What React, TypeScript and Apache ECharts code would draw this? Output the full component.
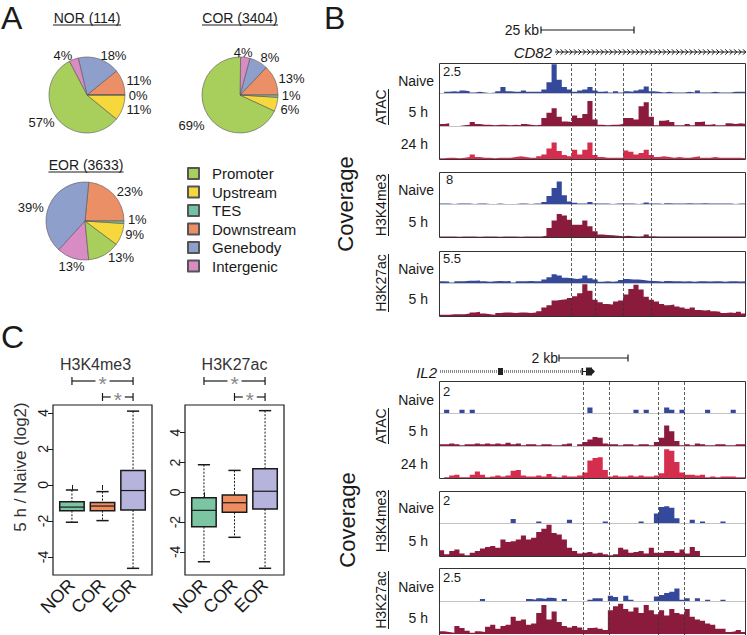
import React, { useEffect, useRef } from "react";
import * as echarts from "echarts";

const FONT = "'Liberation Sans', Arial, Helvetica, sans-serif";

// ---------------- Panel A : genomic distribution pies ----------------
const pieCategories = ["Downstream", "Genebody", "Intergenic", "Promoter", "Upstream", "TES"];
const legendCategories = ["Promoter", "Upstream", "TES", "Downstream", "Genebody", "Intergenic"];
const categoryColors: Record<string, string> = {
  Promoter: "#a8cf5c",
  Upstream: "#f6d83c",
  TES: "#72c3a3",
  Downstream: "#eb8f67",
  Genebody: "#8e9fcc",
  Intergenic: "#d98bc4",
};
const norShares = [11, 18, 4, 57, 11, 0];
const corShares = [13, 8, 4, 69, 6, 1];
const eorShares = [23, 39, 13, 13, 9, 1];
const pieTitles = ["NOR (114)", "COR (3404)", "EOR (3633)"];

// ---------------- Panel C : boxplots [min, q1, median, q3, max] ----------------
const groups = ["NOR", "COR", "EOR"];
const h3k4me3Stats = [
  [-2.07, -1.43, -1.23, -0.93, -0.28],
  [-1.98, -1.43, -1.17, -0.98, -0.37],
  [-4.63, -1.39, -0.31, 0.8, 4.1],
];
const h3k27acStats = [
  [-4.66, -2.31, -1.21, -0.36, 1.85],
  [-3.02, -1.34, -0.7, -0.18, 1.47],
  [-5.1, -1.12, 0.07, 1.58, 5.48],
];
const yTickValues = [-4, -2, 0, 2, 4];
const groupColors = ["#7cc5a2", "#ee8d5f", "#b6b4dc"];

// ---------------- Panel B : coverage tracks (60 bins per locus) ----------------
const cd82AtacNaive = [0,0.1,0.15,0.1,0.2,0.15,0.05,0.1,0.05,0, 0.05,0.15,0.5,0.15,0.1,0.1,0.2,0.1,0.1,0.1, 0.3,0.9,2.4,1.1,0.5,0.3,0.1,0.2,0.3,0.5, 0.2,0.1,0.15,0.05,0.15,0.05,0.15,0.1,0.2,0.3, 0.55,0.15,0.1,0.05,0.1,0.05,0.05,0.05,0.1,0.05, 0.2,0.05,0.05,0.1,0.05,0.05,0.05,0.1,0.1,0.1];
const cd82Atac5h = [0.15,0.2,0,0,0.05,0.1,0.3,0.15,0.1,0.1, 0.05,0.1,0.1,0.05,0.1,0.05,0.15,0.1,0.05,0.1, 0.6,1.0,1.35,0.7,0.35,0.3,0.8,0.6,0.9,1.9, 0.5,0.1,0.05,0.1,0.1,0.15,0.6,0.6,0.5,1.5, 1.8,0.7,0.05,0.4,0.45,0.3,0.05,0.05,0.15,0.05, 0.3,0.35,0.1,0.15,0.05,0.05,0.2,0.15,0.2,0.15];
const cd82Atac24h = [0.05,0.1,0.1,0.05,0.1,0.15,0.35,0.15,0.1,0.1, 0.05,0.1,0.1,0.1,0.15,0.2,0.15,0.1,0.1,0.2, 0.35,0.8,1.25,0.6,0.3,0.2,0.7,0.35,0.7,1.25, 0.3,0.15,0.1,0.1,0.1,0.1,0.65,0.55,0.35,0.45, 0.7,0.3,0.15,0.2,0.15,0.1,0.15,0.1,0.1,0.15, 0.2,0.1,0.1,0.15,0.1,0.1,0.1,0.1,0.1,0.05];
const cd82K4Naive = [0.1,0.1,0,0.15,0.1,0.1,0,0.1,0.1,0, 0,0.1,0,0,0,0.1,0.1,0,0.1,0.15, 0.5,2.0,4.0,5.6,2.2,0.6,0.3,0.1,0.1,0.5, 0.1,0.1,0.1,0,0.1,0.1,0.1,0.1,0,0.1, 0.4,0.1,0.1,0,0.2,0.1,0.1,0.1,0.2,0.1, 0.1,0.2,0.1,0.1,0.1,0.1,0.1,0,0.1,0.1];
const cd82K45h = [0.1,0.1,0.1,0.05,0.1,0.1,0.1,0.05,0.1,0.1, 0.1,0.05,0.1,0.1,0.1,0.05,0.1,0.1,0.1,0.15, 0.3,2.2,4.0,5.6,5.2,4.2,3.0,3.0,4.0,2.6, 1.4,0.6,0.5,0.4,0.3,0.2,0.3,0.2,0.1,0.2, 0.6,0.2,0.1,0.1,0.15,0.1,0.1,0.1,0.1,0.1, 0.1,0.15,0.1,0.1,0.1,0.1,0.1,0.15,0.1,0.1];
const cd82K27Naive = [0.3,0.25,0.1,0.3,0.3,0.4,0.4,0.45,0.3,0.2, 0.3,0.35,0.3,0.35,0.1,0.3,0.3,0.35,0.3,0.3, 0.6,1.0,1.5,1.3,0.9,0.8,0.7,0.8,1.3,0.8, 0.6,0.2,0.3,0.2,0.3,0.5,0.7,0.6,0.6,0.5, 0.4,0.35,0.3,0.2,0.35,0.3,0.3,0.25,0.3,0.2, 0.3,0.3,0.25,0.3,0.3,0.2,0.3,0.3,0.25,0.3];
const cd82K275h = [0.2,0.2,0.3,0.3,0.3,0.4,0.6,0.7,0.4,0.3, 0.2,0.5,0.6,0.6,0.5,0.6,0.6,0.5,0.6,0.8, 1.4,1.8,2.6,2.7,2.8,3.0,3.3,3.8,5.3,4.2, 2.7,2.3,2.0,1.9,2.4,2.6,3.6,4.5,5.2,4.4, 3.2,2.7,2.4,2.0,1.8,1.9,1.6,1.4,1.2,1.4, 1.0,0.9,1.0,0.8,0.7,0.5,0.6,0.5,0.7,0.4];

const il2AtacNaive = [0,0.2,0,0,0.2,0,0.2,0,0,0, 0,0,0,0,0,0,0,0,0,0, 0,0,0,0,0,0,0,0,0,0.35, 0,0,0,0,0,0,0,0,0.2,0, 0.2,0,0,0,0.35,0.2,0,0.2,0,0, 0,0,0.2,0,0,0,0,0.2,0,0];
const il2Atac5h = [0.1,0.1,0.15,0.1,0.05,0.1,0.1,0.15,0.1,0.15, 0.1,0.15,0.1,0.2,0.1,0.15,0.05,0.1,0.1,0.05, 0.1,0.1,0.05,0.05,0.1,0.15,0,0.1,0.25,0.4, 0.55,0.5,0.15,0.1,0.1,0.05,0.1,0.1,0.05,0.1, 0.1,0.05,0.25,0.5,1.25,0.9,0.3,0.05,0.1,0.05, 0.15,0.1,0.05,0.05,0.1,0.1,0.05,0.05,0.1,0.1];
const il2Atac24h = [0,0.05,0.15,0.2,0.05,0.05,0.2,0.4,0.2,0.05, 0.1,0.15,0.1,0.15,0.45,0.5,0.15,0.1,0.1,0.15, 0.1,0.25,0.1,0.05,0.15,0.1,0.1,0.15,0.35,1.1, 1.25,1.3,0.5,0.1,0.15,0.1,0.1,0.15,0.1,0.15, 0.1,0.1,0.15,0.3,1.8,1.7,1.0,0.35,0.2,0.2, 0.15,0.2,0.05,0.1,0.05,0.1,0.1,0.1,0.05,0.05];
const il2K4Naive = [0,0,0,0,0,0,0,0,0,0, 0,0,0,0,0.25,0,0,0,0,0.1, 0,0,0,0,0,0.2,0,0,0,0, 0,0,0.1,0,0,0,0,0,0,0.1, 0,0,0.6,1.0,1.05,0.95,0.3,0,0,0.2, 0,0.1,0,0,0,0.1,0,0,0,0];
const il2K45h = [0.35,0.1,0.3,0.4,0.15,0.05,0.2,0.3,0.45,0.55, 0.6,0.5,1.0,0.85,0.9,1.0,1.25,1.0,1.1,1.45, 1.65,1.9,1.4,1.3,1.0,0.5,0.3,0.15,0.2,0.25, 0.15,0.2,0.1,0.05,0.1,0.5,0.4,0.2,0.25,0.3, 0.15,0.5,0.2,0.2,0.3,0.3,0.2,0.4,0.15,0.55, 0.3,0,0,0,0,0,0,0,0,0];
const il2K27Naive = [0,0,0,0,0,0,0,0,0.15,0, 0,0,0,0,0,0,0,0.15,0.1,0.2, 0.15,0.25,0.2,0,0.15,0,0,0,0,0.1, 0.2,0.2,0,0.4,0.3,0,0.4,0.1,0,0, 0,0,0.35,0.45,0.6,0.7,0.95,0.1,0.2,0, 0.2,0,0.1,0,0,0.1,0,0,0,0];
const il2K275h = [0.2,0.15,0.1,0.6,0.45,0.25,0.1,0.2,0.15,0.55, 0.7,0.4,0.6,0.7,1.3,1.0,1.1,0.7,0.8,1.6, 2.2,1.1,1.7,0.9,0.6,0.5,0.6,0.5,0.3,0.45, 0.5,0.4,0.3,1.8,2.1,2.3,1.9,1.7,2.0,1.6, 2.2,1.8,1.5,1.8,1.4,1.9,1.6,1.5,1.9,1.3, 1.1,1.0,0.8,0.7,0.4,0.4,0.15,0.2,0.3,0.15];

// track data ranges (the numbers printed at the top-left of each box)
const cd82Ranges = [2.5, 8, 5.5];
const il2Ranges = [2, 2, 2.5];
// enhancer boundaries (dashed lines), in bins
const cd82Dashes = [25.8, 30.5, 36.1, 41.4];
const il2Dashes = [28.2, 33.3, 42.9, 47.9];
const NBINS = 60;

const NAIVE = "#34499c";
const H5 = "#8b1b3d";
const H24 = "#d52d4d";
const TX = 439;
const TW = 307;

export default function App() {
  const ref = useRef<HTMLDivElement>(null);
  useEffect(() => {
    if (!ref.current) return;
    const chart = echarts.init(ref.current, null, { renderer: "svg", width: 747, height: 635 });

    const grids: any[] = [];
    const xAxes: any[] = [];
    const yAxes: any[] = [];
    const series: any[] = [];
    const g: any[] = [];

    const txt = (text: string, x: number, y: number, o: any = {}) =>
      g.push({
        type: "text", x, y, rotation: o.rot || 0, silent: true, z: 100,
        style: {
          text, fontSize: o.size || 14, fontFamily: FONT, fill: o.color || "#1a1a1a",
          align: o.align || "left", verticalAlign: o.va || "middle",
          fontStyle: o.italic ? "italic" : "normal",
          lineHeight: o.lh || undefined,
        },
      });
    const ln = (x1: number, y1: number, x2: number, y2: number, o: any = {}) =>
      g.push({
        type: "line", silent: true, z: 100, shape: { x1, y1, x2, y2 },
        style: { stroke: o.color || "#1a1a1a", lineWidth: o.w || 1, lineDash: o.dash || null },
      });
    const rect = (x: number, y: number, w: number, h: number, o: any = {}) =>
      g.push({
        type: "rect", silent: true, z: o.z || 100, shape: { x, y, width: w, height: h },
        style: { fill: o.fill || "none", stroke: o.stroke || "none", lineWidth: o.w || 1 },
      });

    // ---------------- Panel C boxplots ----------------
    const boxGrids = [
      { left: 53, stats: h3k4me3Stats, min: -5.0, max: 4.44, title: "H3K4me3" },
      { left: 185, stats: h3k27acStats, min: -5.55, max: 5.86, title: "H3K27ac" },
    ];
    const XMIN = 0.38, XMAX = 3.62, BW = 99;
    boxGrids.forEach((b, k) => {
      grids.push({ left: b.left, top: 405, width: BW, height: 170, show: true, borderColor: "#1a1a1a", borderWidth: 1.2, backgroundColor: "transparent" });
      xAxes.push({
        type: "value", gridIndex: k, min: XMIN, max: XMAX,
        axisLine: { show: false }, splitLine: { show: false },
        axisTick: { show: true, customValues: [1, 2, 3], length: 5, lineStyle: { color: "#1a1a1a" } },
        axisLabel: {
          show: true, customValues: [1, 2, 3], rotate: 45, margin: 7, fontSize: 18,
          color: "#1a1a1a", fontFamily: FONT, formatter: (v: number) => groups[Math.round(v) - 1] || "",
        },
      });
      yAxes.push({
        type: "value", gridIndex: k, min: b.min, max: b.max,
        axisLine: { show: false }, splitLine: { show: false },
        axisTick: { show: true, customValues: yTickValues, length: 5, lineStyle: { color: "#1a1a1a" } },
        axisLabel: {
          show: true, customValues: yTickValues, rotate: 90, margin: 3, fontSize: 14,
          color: "#1a1a1a", fontFamily: FONT, formatter: (v: number) => String(v),
        },
      });
      series.push({
        type: "custom", xAxisIndex: k, yAxisIndex: k, silent: true, z: 3,
        data: b.stats.map((s, i) => [i + 1, ...s]),
        encode: { x: 0, y: [1, 2, 3, 4, 5] },
        renderItem: (params: any, api: any) => {
          const x = api.value(0);
          const pLo = api.coord([x, api.value(1)]);
          const pQ1 = api.coord([x, api.value(2)]);
          const pMed = api.coord([x, api.value(3)]);
          const pQ3 = api.coord([x, api.value(4)]);
          const pHi = api.coord([x, api.value(5)]);
          const w = api.size([0.8, 0])[0];
          const cx = pMed[0];
          const dotted = { stroke: "#1a1a1a", lineWidth: 1, lineDash: [2, 1.5] };
          const solid = { stroke: "#1a1a1a", lineWidth: 1.5 };
          return {
            type: "group",
            children: [
              { type: "line", shape: { x1: cx, y1: pHi[1], x2: cx, y2: pQ3[1] }, style: dotted },
              { type: "line", shape: { x1: cx, y1: pQ1[1], x2: cx, y2: pLo[1] }, style: dotted },
              { type: "line", shape: { x1: cx - w / 4, y1: pHi[1], x2: cx + w / 4, y2: pHi[1] }, style: solid },
              { type: "line", shape: { x1: cx - w / 4, y1: pLo[1], x2: cx + w / 4, y2: pLo[1] }, style: solid },
              { type: "rect", shape: { x: cx - w / 2, y: pQ3[1], width: w, height: pQ1[1] - pQ3[1] }, style: { fill: groupColors[params.dataIndex], stroke: "#1a1a1a", lineWidth: 1.5 } },
              { type: "line", shape: { x1: cx - w / 2, y1: pMed[1], x2: cx + w / 2, y2: pMed[1] }, style: { stroke: "#1a1a1a", lineWidth: 1.2 } },
            ],
          };
        },
      });
      // title
      txt(b.title, b.left + BW / 2 - (k === 0 ? 7 : 0), 364, { size: 16, align: "center", color: "#333", lh: 16 });
      // significance brackets (NOR-EOR, COR-EOR)
      const cat = (i: number) => b.left + ((i - XMIN) / (XMAX - XMIN)) * BW;
      const bracket = (a: number, c: number, y: number) => {
        const xa = cat(a), xc = cat(c), mid = (xa + xc) / 2;
        ln(xa, y, mid - 7, y, { w: 1.2 });
        ln(mid + 7, y, xc, y, { w: 1.2 });
        ln(xa, y - 4, xa, y + 4, { w: 1.2 });
        ln(xc, y - 4, xc, y + 4, { w: 1.2 });
        txt("*", mid, y + 2, { size: 21, align: "center", color: "#888", lh: 12 });
      };
      bracket(1, 3, 381);
      bracket(2, 3, 397);
    });
    txt("5 h / Naive (log2)", 20, 467, { size: 17, align: "center", rot: Math.PI / 2, color: "#333" });

    // ---------------- Panel B tracks ----------------
    const tracks = [
      { data: cd82AtacNaive, max: cd82Ranges[0], color: NAIVE, top: 63, h: 30, base: true },
      { data: cd82Atac5h, max: cd82Ranges[0], color: H5, top: 93, h: 33, base: true },
      { data: cd82Atac24h, max: cd82Ranges[0], color: H24, top: 126, h: 33, base: false },
      { data: cd82K4Naive, max: cd82Ranges[1], color: NAIVE, top: 172, h: 32, base: true },
      { data: cd82K45h, max: cd82Ranges[1], color: H5, top: 204, h: 33, base: false },
      { data: cd82K27Naive, max: cd82Ranges[2], color: NAIVE, top: 251, h: 32, base: true },
      { data: cd82K275h, max: cd82Ranges[2], color: H5, top: 283, h: 33, base: false },
      { data: il2AtacNaive, max: il2Ranges[0], color: NAIVE, top: 381, h: 32, base: true },
      { data: il2Atac5h, max: il2Ranges[0], color: H5, top: 413, h: 33, base: true },
      { data: il2Atac24h, max: il2Ranges[0], color: H24, top: 446, h: 32, base: false },
      { data: il2K4Naive, max: il2Ranges[1], color: NAIVE, top: 491, h: 32, base: true },
      { data: il2K45h, max: il2Ranges[1], color: H5, top: 523, h: 33, base: false },
      { data: il2K27Naive, max: il2Ranges[2], color: NAIVE, top: 568, h: 33, base: true },
      { data: il2K275h, max: il2Ranges[2], color: H5, top: 601, h: 33, base: false },
    ];
    tracks.forEach((t) => {
      const gi = grids.length;
      grids.push({ left: TX, top: t.top, width: TW, height: t.h });
      xAxes.push({
        type: "value", gridIndex: gi, min: 0, max: NBINS,
        axisLine: { show: t.base, onZero: false, lineStyle: { color: "#c4c4c4", width: 1 } },
        axisTick: { show: false }, axisLabel: { show: false }, splitLine: { show: false },
      });
      yAxes.push({ type: "value", gridIndex: gi, min: 0, max: t.max, show: false });
      const pts = t.data.map((v, i) => [i, v]);
      pts.push([t.data.length, t.data[t.data.length - 1]]);
      series.push({
        type: "line", xAxisIndex: gi, yAxisIndex: gi, step: "end", symbol: "none", silent: true,
        lineStyle: { width: 0 }, areaStyle: { color: t.color, opacity: 1 }, data: pts, z: 2,
      });
    });
    // dashed enhancer boundaries
    [
      { top: 63, h: 253, dashes: cd82Dashes },
      { top: 381, h: 254, dashes: il2Dashes },
    ].forEach((o) => {
      const gi = grids.length;
      grids.push({ left: TX, top: o.top, width: TW, height: o.h });
      xAxes.push({ type: "value", gridIndex: gi, min: 0, max: NBINS, show: false });
      yAxes.push({ type: "value", gridIndex: gi, min: 0, max: 1, show: false });
      series.push({
        type: "line", xAxisIndex: gi, yAxisIndex: gi, data: [[0, 0]], symbol: "none", silent: true,
        lineStyle: { opacity: 0 }, z: 10,
        markLine: {
          silent: true, symbol: "none", label: { show: false },
          lineStyle: { color: "#333", width: 0.8, type: [3, 2] },
          data: o.dashes.map((v) => ({ xAxis: v })),
        },
      });
    });

    // track frames
    [[63, 96], [172, 65], [251, 65], [381, 97], [491, 65], [568, 67]].forEach(([y, h]) =>
      rect(TX + 0.5, y + 0.5, TW - 1, h, { stroke: "#333", w: 1 })
    );
    // range labels
    txt(String(cd82Ranges[0]), 443, 71, { size: 13 });
    txt(String(cd82Ranges[1]), 446, 179, { size: 13 });
    txt(String(cd82Ranges[2]), 443, 258, { size: 13 });
    txt(String(il2Ranges[0]), 443, 391, { size: 13 });
    txt(String(il2Ranges[1]), 443, 500, { size: 13 });
    txt(String(il2Ranges[2]), 443, 577, { size: 13 });
    // row labels
    const rowLabels: [string, number, number][] = [
      ["Naive", 434, 81], ["5 h", 428, 112], ["24 h", 428, 144],
      ["Naive", 434, 190], ["5 h", 428, 222],
      ["Naive", 434, 269], ["5 h", 428, 299],
      ["Naive", 434, 400], ["5 h", 428, 431], ["24 h", 428, 464],
      ["Naive", 434, 508], ["5 h", 428, 541],
      ["Naive", 434, 587], ["5 h", 428, 618],
    ];
    rowLabels.forEach(([s, x, y]) => txt(s, x, y, { size: 14, align: "right" }));
    // assay labels (rotated, underlined)
    const assays: [string, number, number][] = [
      ["ATAC", 107, 36], ["H3K4me3", 205, 62], ["H3K27ac", 283, 58],
      ["ATAC", 426, 36], ["H3K4me3", 521, 62], ["H3K27ac", 600, 58],
    ];
    assays.forEach(([s, y, len]) => {
      txt(s, 381, y, { size: 14, align: "center", rot: Math.PI / 2 });
      ln(388.5, y - len / 2, 388.5, y + len / 2, { w: 1 });
    });
    txt("Coverage", 345, 204, { size: 22, align: "center", rot: Math.PI / 2 });
    txt("Coverage", 347, 520, { size: 22, align: "center", rot: Math.PI / 2 });

    // scale bars
    txt("25 kb", 539, 30, { size: 14, align: "right" });
    ln(541, 30, 634, 30, { w: 1.2 });
    ln(541, 26.5, 541, 33.5, { w: 1.2 });
    ln(634, 26.5, 634, 33.5, { w: 1.2 });
    txt("2 kb", 558, 358, { size: 14, align: "right" });
    ln(559, 358, 628, 358, { w: 1.2 });
    ln(559, 354.5, 559, 361.5, { w: 1.2 });
    ln(628, 354.5, 628, 361.5, { w: 1.2 });

    // CD82 gene
    txt("CD82", 552, 52, { size: 15, align: "right", italic: true });
    ln(555, 52, 746, 52, { w: 1 });
    for (let x = 557.5; x < 745; x += 4.45) {
      g.push({
        type: "polyline", silent: true, z: 100,
        shape: { points: [[x - 1.4, 49.3], [x + 1.3, 52], [x - 1.4, 54.7]] },
        style: { stroke: "#111", lineWidth: 1, fill: null },
      });
    }
    // IL2 gene
    txt("IL2", 437, 372, { size: 15, align: "right", italic: true });
    ln(440, 371.5, 582, 371.5, { color: "#8a8a8a", w: 3, dash: [1, 1] });
    ln(582, 371.5, 592, 371.5, { color: "#222", w: 1 });
    rect(498, 368, 5, 7, { fill: "#222" });
    rect(581.5, 368, 1.6, 7, { fill: "#222" });
    rect(586, 367.5, 6, 8, { fill: "#222" });
    g.push({ type: "polygon", silent: true, z: 100, shape: { points: [[592, 368.5], [595, 371.5], [592, 374.5]] }, style: { fill: "#222" } });

    // ---------------- Panel A pies ----------------
    const pieSpecs = [
      { center: [87, 95], r: 38, vals: norShares },
      { center: [240, 95], r: 38, vals: corShares },
      { center: [85, 221], r: 39, vals: eorShares },
    ];
    // small manual label offsets [dx, dy] per slice (same order as pieCategories)
    const labelNudges: number[][][] = [
      [[0, -0.5], [0, 0], [0, 0], [0, 1], [0, 0.5], [0, 0]],
      [[0, 0], [0, -1], [-12, -1], [0, 8], [0, 4], [0, -1]],
      [[0, -1], [-2, 4], [13, 5], [2, -1], [0, -1], [0, -3]],
    ];
    pieSpecs.forEach((p, pi) => {
      series.push({
        type: "pie", center: p.center, radius: p.r, startAngle: 0, clockwise: false, silent: true,
        data: pieCategories.map((n, i) => ({ name: n, value: p.vals[i], itemStyle: { color: categoryColors[n] } })),
        itemStyle: { borderColor: "#555", borderWidth: 0.6 },
        label: { show: false },
        labelLine: { show: false },
        emphasis: { disabled: true },
      });
      // R-style labels at 1.1 x radius, on each slice's mid angle
      const total = p.vals.reduce((a, b) => a + b, 0);
      let acc = 0;
      p.vals.forEach((v, i) => {
        const a0 = (acc / total) * 2 * Math.PI;
        acc += v;
        const a1 = (acc / total) * 2 * Math.PI;
        const mid = (a0 + a1) / 2;
        const px = Math.cos(mid) * p.r * 1.1;
        const py = -Math.sin(mid) * p.r * 1.1;
        const [dx, dy] = labelNudges[pi][i];
        txt(`${v}%`, p.center[0] + px + dx, p.center[1] + py + dy, { size: 13, lh: 11, align: px < -0.001 ? "right" : "left" });
      });
    });
    const titlePos: [number, number, number][] = [[87, 18, 68], [240, 18, 76], [86, 165, 75]];
    pieTitles.forEach((t, i) => {
      const [x, y, w] = titlePos[i];
      txt(t, x, y, { size: 14, align: "center" });
      ln(x - w / 2, y + 7, x + w / 2, y + 7, { w: 1 });
    });

    // panel letters
    txt("A", 1, 18, { size: 32 });
    txt("B", 324, 18, { size: 32 });
    txt("C", 1, 337, { size: 32 });

    chart.setOption({
      animation: false,
      backgroundColor: "#ffffff",
      textStyle: { fontFamily: FONT },
      grid: grids,
      xAxis: xAxes,
      yAxis: yAxes,
      legend: {
        data: legendCategories, orient: "vertical", left: 187, top: 166, padding: 0,
        itemWidth: 11, itemHeight: 11, itemGap: 3.5, icon: "rect", selectedMode: false,
        textStyle: { fontSize: 15, lineHeight: 15, fontFamily: FONT, color: "#1a1a1a", padding: [0, 0, 0, 8] },
      },
      series,
      graphic: g,
    });
    return () => chart.dispose();
  }, []);
  return <div ref={ref} style={{ position: "absolute", left: 0, top: 0, width: 747, height: 635 }} />;
}
